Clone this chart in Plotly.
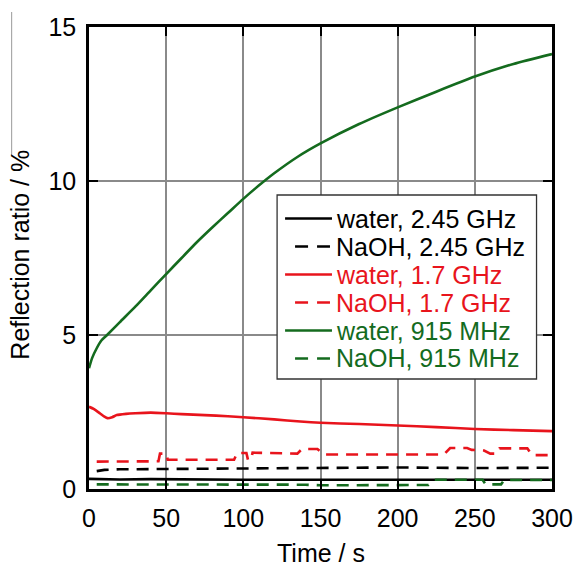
import plotly.graph_objects as go

# ---- data ----
t_green_water = [0, 2, 5, 8, 11.7, 20, 30, 40, 50, 60, 70, 80, 90, 100, 110, 120, 135, 150, 175, 200, 225, 250, 275, 300]
v_green_water = [3.92, 4.25, 4.57, 4.82, 5.0, 5.42, 5.92, 6.45, 6.98, 7.5, 8.02, 8.5, 8.96, 9.42, 9.85, 10.25, 10.78, 11.22, 11.85, 12.39, 12.9, 13.39, 13.8, 14.12]

t_red_water = [0, 3, 7, 10, 12, 15, 18, 24, 30, 40, 50, 60, 75, 90, 100, 120, 137, 150, 175, 200, 225, 250, 275, 300]
v_red_water = [2.67, 2.6, 2.46, 2.35, 2.3, 2.33, 2.4, 2.44, 2.46, 2.48, 2.46, 2.43, 2.4, 2.36, 2.33, 2.26, 2.19, 2.15, 2.11, 2.06, 2.01, 1.95, 1.91, 1.88]

t_black_water = [0, 20, 40, 60, 100, 150, 200, 250, 300]
v_black_water = [0.33, 0.31, 0.32, 0.31, 0.30, 0.30, 0.29, 0.30, 0.30]

t_black_naoh = [5, 10, 20, 50, 100, 150, 200, 250, 300]
v_black_naoh = [0.58, 0.62, 0.64, 0.65, 0.66, 0.68, 0.70, 0.68, 0.69]

t_red_naoh = [5, 45, 46, 50, 51, 94, 96, 102, 103, 105, 106, 125, 135, 138, 148, 152, 230, 234, 245, 248, 256, 260, 264, 266, 284, 287, 300]
v_red_naoh = [0.89, 0.90, 1.15, 1.15, 0.95, 0.95, 1.17, 1.17, 0.95, 0.95, 1.18, 1.16, 1.15, 1.30, 1.30, 1.12, 1.12, 1.33, 1.33, 1.27, 1.25, 1.15, 1.15, 1.32, 1.32, 1.10, 1.10]

t_green_naoh = [5, 100, 140, 150, 220, 222, 224, 255, 257, 267, 269, 300]
v_green_naoh = [0.15, 0.15, 0.14, 0.12, 0.13, 0.22, 0.30, 0.30, 0.15, 0.15, 0.29, 0.29]

x_ticks = [0, 50, 100, 150, 200, 250, 300]
y_ticks = [0, 5, 10, 15]

legend_names = ["water, 2.45 GHz", "NaOH, 2.45 GHz", "water, 1.7 GHz",
                "NaOH, 1.7 GHz", "water, 915 MHz", "NaOH, 915 MHz"]

BLACK = "#000000"
RED = "#e8141c"
GREEN = "#146b1e"
FONT = "Liberation Sans, Arial, sans-serif"
DASH = "12px,8px"

series = [
    (t_black_water, v_black_water, BLACK, "solid", "linear"),
    (t_black_naoh, v_black_naoh, BLACK, DASH, "linear"),
    (t_red_water, v_red_water, RED, "solid", "spline"),
    (t_red_naoh, v_red_naoh, RED, DASH, "linear"),
    (t_green_water, v_green_water, GREEN, "solid", "spline"),
    (t_green_naoh, v_green_naoh, GREEN, DASH, "linear"),
]

fig = go.Figure()
for (tx, vy, col, dash, shape), name in zip(series, legend_names):
    fig.add_trace(go.Scatter(
        x=tx, y=vy, mode="lines", name=name, showlegend=False,
        line=dict(color=col, width=2.6, dash=dash, shape=shape, smoothing=0.6),
    ))

axis_common = dict(
    showline=True, linecolor="black", linewidth=2.5, mirror="ticks",
    ticks="inside", ticklen=9, tickwidth=2, tickcolor="black",
    showgrid=True, gridcolor="#8a8a8a", gridwidth=1.5,
    zeroline=False, tickfont=dict(family=FONT, size=25, color="black"),
)

fig.update_xaxes(range=[0, 300], tickvals=x_ticks, ticktext=[str(v) for v in x_ticks],
                 ticklabelstandoff=5, **axis_common)
fig.update_yaxes(range=[0, 15], tickvals=y_ticks, ticktext=[str(v) for v in y_ticks],
                 ticklabelstandoff=5, **axis_common)

# plot-area pixel geometry (for legend placement in paper units)
L, R, T, B = 88.5, 552.5, 27.0, 489.0
def px(x):
    return (x - L) / (R - L)
def py(y):
    return (B - y) / (B - T)

shapes = [
    dict(type="line", xref="paper", yref="paper", x0=px(11), x1=px(11),
         y0=py(12), y1=py(155), line=dict(color="#999999", width=1)),
    dict(type="rect", xref="paper", yref="paper", x0=px(277), x1=px(537),
         y0=py(379), y1=py(195), line=dict(color="#333333", width=1.3),
         fillcolor="white", layer="above"),
]
annotations = [
    dict(text="Time / s", xref="paper", yref="paper", x=0.5, y=py(567.5),
         xanchor="center", yanchor="bottom", showarrow=False, borderpad=0,
         font=dict(family=FONT, size=25, color="black")),
    dict(text="Reflection ratio / %", xref="paper", yref="paper", x=px(19), y=py(255),
         xanchor="center", yanchor="middle", textangle=-90, showarrow=False,
         font=dict(family=FONT, size=25, color="black")),
]
for i, ((tx, vy, col, dash, shape), name) in enumerate(zip(series, legend_names)):
    yc = 218.5 + 28.0 * i
    if dash == "solid":
        x0, x1, d = 285, 332, "solid"
    else:
        x0, x1, d = 295, 330, "13px,9px"
    shapes.append(dict(type="line", xref="paper", yref="paper",
                       x0=px(x0), x1=px(x1), y0=py(yc), y1=py(yc),
                       line=dict(color=col, width=2.6, dash=d), layer="above"))
    annotations.append(dict(text=name, xref="paper", yref="paper",
                            x=px(334), y=py(yc), xanchor="left", yanchor="middle",
                            showarrow=False,
                            font=dict(family=FONT, size=25, color=col)))

fig.update_layout(
    width=574, height=566,
    margin=dict(l=L, r=574 - R, t=T, b=566 - B, autoexpand=False),
    paper_bgcolor="white", plot_bgcolor="white",
    font=dict(family=FONT, size=22, color="black"),
    showlegend=False,
    annotations=annotations,
    shapes=shapes,
)

fig.write_html("out.html")
